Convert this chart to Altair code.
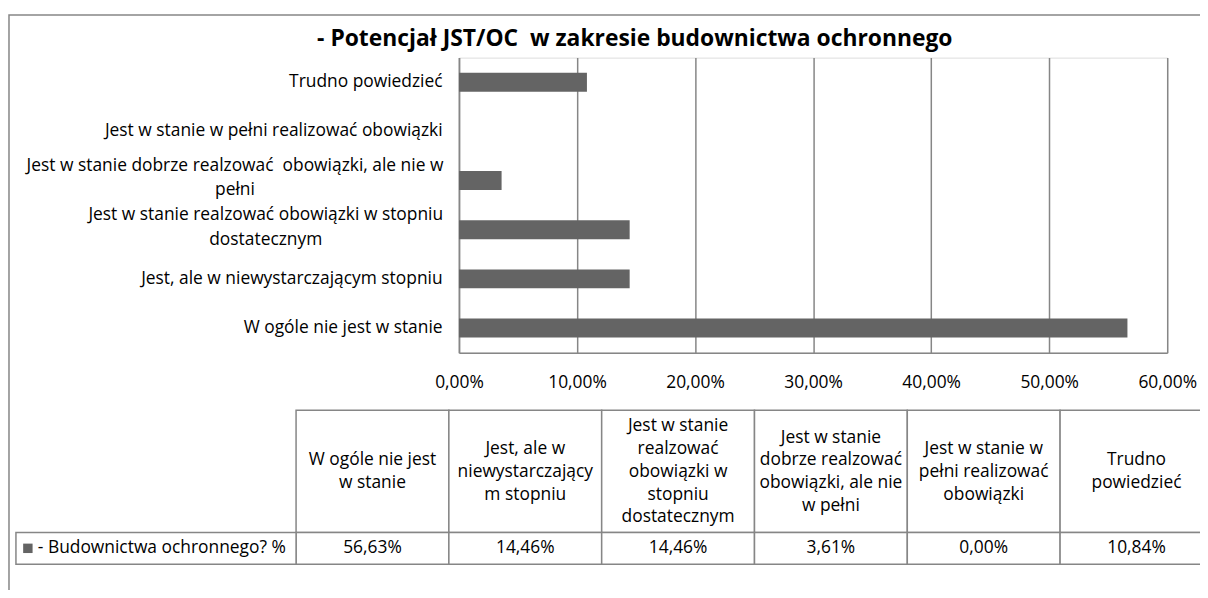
import altair as alt
import pandas as pd

# ---- data ----
categories = [
    "W ogóle nie jest w stanie",
    "Jest, ale w niewystarczającym stopniu",
    "Jest w stanie realzować obowiązki w stopniu dostatecznym",
    "Jest w stanie dobrze realzować obowiązki, ale nie w pełni",
    "Jest w stanie w pełni realizować obowiązki",
    "Trudno powiedzieć",
]
values = [0.5663, 0.1446, 0.1446, 0.0361, 0.0, 0.1084]
axis_labels = [
    "W ogóle nie jest w stanie",
    "Jest, ale w niewystarczającym stopniu",
    "Jest w stanie realzować obowiązki w stopniu|dostatecznym",
    "Jest w stanie dobrze realzować\u00a0 obowiązki, ale nie w|pełni",
    "Jest w stanie w pełni realizować obowiązki",
    "Trudno powiedzieć",
]
table_headers = [
    "W ogóle nie jest|w stanie",
    "Jest, ale w|niewystarczający|m stopniu",
    "Jest w stanie|realzować|obowiązki w|stopniu|dostatecznym",
    "Jest w stanie|dobrze realzować|obowiązki, ale nie|w pełni",
    "Jest w stanie w|pełni realizować|obowiązki",
    "Trudno|powiedzieć",
]
series_name = "- Budownictwa ochronnego? %"
title_text = "- Potencjał JST/OC\u00a0 w zakresie budownictwa ochronnego"
x_ticks = [0, 0.1, 0.2, 0.3, 0.4, 0.5, 0.6]

FONT = "Open Sans"
FS = 17.5
GRAY = "#868686"
BAR = "#646464"
HEAD_LH = 23

df = pd.DataFrame({
    "category": categories,
    "ylabel": axis_labels,
    "header": table_headers,
    "value": values,
    "i": list(range(len(categories))),
})
one = pd.DataFrame({"a": [0]})
order = list(reversed(axis_labels))

pct_expr = "replace(format(datum.value, '.2%'), '.', ',')"
multi = "indexof(datum.label, '|') >= 0"

# ---- frame & title ----
frame = alt.Chart(one).mark_rect(fill="transparent", stroke=GRAY, strokeWidth=1.5).encode(
    x=alt.value(-453), x2=alt.value(760), y=alt.value(-43), y2=alt.value(560)
)
title = alt.Chart(one).mark_text(
    text=title_text, font=FONT, fontSize=23, fontWeight="bold", align="center",
    baseline="middle", color="#000"
).encode(x=alt.value(177), y=alt.value(-19))

# ---- bars ----
bars = alt.Chart(df).mark_bar(color=BAR).encode(
    x=alt.X("value:Q", scale=alt.Scale(domain=[0, 0.6], nice=False),
            axis=alt.Axis(values=x_ticks, labelExpr=pct_expr, grid=True, gridColor=GRAY,
                          gridWidth=1.5, domainColor=GRAY, domainWidth=1.5, ticks=False,
                          labelPadding=21, title=None, labelFontSize=FS, labelFont=FONT,
                          labelColor="#000", labelFlush=False, labelOverlap=False)),
    y=alt.Y("ylabel:N", sort=order,
            scale=alt.Scale(paddingInner=0.616, paddingOuter=0.308),
            axis=alt.Axis(labelExpr="split(datum.label, '|')", ticks=False,
                          title=None, labelLimit=0, labelLineHeight=25, domainColor=GRAY,
                          domainWidth=1.5, labelFontSize=FS, labelFont=FONT, labelColor="#000",
                          labelAlign={"condition": {"test": multi, "value": "center"},
                                      "value": "right"},
                          labelPadding={"condition": [
                              {"test": "indexof(datum.label, 'dobrze') >= 0", "value": 226},
                              {"test": "indexof(datum.label, 'dostatecznym') >= 0", "value": 195},
                          ], "value": 17},
                          labelOffset={"condition": {"test": multi, "value": -15},
                                       "value": 0})),
)

# ---- data table ----
tx = alt.Scale(domain=[0, 6], range=[-164, 759])
tbase = alt.Chart(df).transform_calculate(
    i1="datum.i + 1", im="datum.i + 0.5",
    lines="split(datum.header, '|')", vtxt=pct_expr
).transform_calculate(
    ty=f"417 - (length(datum.lines) - 1) * {HEAD_LH} / 2"
)
head_cells = tbase.mark_rect(fill="white", stroke=GRAY, strokeWidth=1.5).encode(
    x=alt.X("i:Q", scale=tx, axis=None), x2="i1:Q", y=alt.value(355), y2=alt.value(478)
)
val_cells = tbase.mark_rect(fill="white", stroke=GRAY, strokeWidth=1.5).encode(
    x=alt.X("i:Q", scale=tx, axis=None), x2="i1:Q", y=alt.value(478), y2=alt.value(510)
)
head_text = tbase.mark_text(font=FONT, fontSize=FS, align="center", baseline="middle",
                            lineHeight=HEAD_LH, color="#000").encode(
    x=alt.X("im:Q", scale=tx, axis=None), y=alt.Y("ty:Q", scale=None), text="lines:N"
)
val_text = tbase.mark_text(font=FONT, fontSize=FS, align="center", baseline="middle",
                           color="#000").encode(
    x=alt.X("im:Q", scale=tx, axis=None), y=alt.value(494), text="vtxt:N"
)
legend_cell = alt.Chart(one).mark_rect(fill="white", stroke=GRAY, strokeWidth=1.5).encode(
    x=alt.value(-446), x2=alt.value(-164), y=alt.value(478), y2=alt.value(510)
)
legend_sym = alt.Chart(one).mark_point(shape="square", filled=True, color=BAR, size=90,
                                       opacity=1).encode(x=alt.value(-434), y=alt.value(494))
legend_text = alt.Chart(one).mark_text(text=series_name, font=FONT, fontSize=FS, align="left",
                                       baseline="middle", color="#000").encode(
    x=alt.value(-424), y=alt.value(494)
)

chart = alt.layer(
    frame, title, bars, head_cells, val_cells, head_text, val_text,
    legend_cell, legend_sym, legend_text
).resolve_scale(x="independent").properties(
    width=713, height=297,
    autosize=alt.AutoSizeParams(type="none"),
    padding={"left": 454, "top": 48, "right": 33, "bottom": 237},
).configure_view(stroke=None).configure(background="white")

chart.save("out.html", embed_options={"renderer": "svg", "actions": False})
